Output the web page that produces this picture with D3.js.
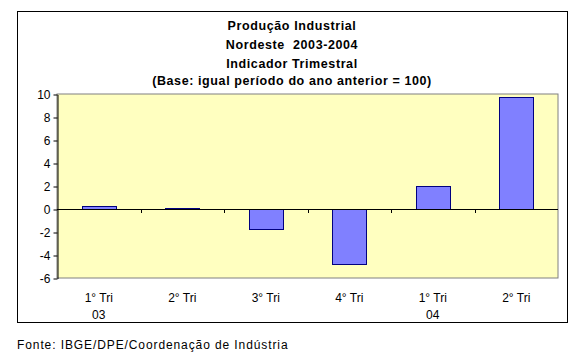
<!DOCTYPE html>
<html><head><meta charset="utf-8">
<script src="https://cdn.jsdelivr.net/npm/d3@7"></script>
<style>body{margin:0;background:#fff}svg{display:block}text{font-family:"Liberation Sans",Arial,sans-serif}</style>
</head><body>
<svg id="c" width="588" height="359"></svg>
<script>
const categories = ["1° Tri","2° Tri","3° Tri","4° Tri","1° Tri","2° Tri"];
const years = ["03","","","","04",""];
const values = [0.25, 0.08, -1.7, -4.8, 2.0, 9.7];
const yTicks = [-6,-4,-2,0,2,4,6,8,10];
const titleLines = ["Produção Industrial","Nordeste  2003-2004","Indicador Trimestral","(Base: igual período do ano anterior = 100)"];
const source = "Fonte: IBGE/DPE/Coordenação de Indústria";

const svg = d3.select("#c");
const m = {left:57, right:558, top:94, bottom:278};

svg.append("rect").attr("x",17.5).attr("y",11.5).attr("width",550).attr("height",311)
  .attr("fill","#fff").attr("stroke","#000").attr("stroke-width",1);

const x = d3.scaleBand().domain(d3.range(categories.length)).range([m.left,m.right]).paddingInner(0.59).paddingOuter(0.295);
const y = d3.scaleLinear().domain([-6,10]).range([m.bottom,m.top]);

svg.append("rect").attr("x",m.left).attr("y",m.top).attr("width",m.right-m.left).attr("height",m.bottom-m.top)
  .attr("fill","#FFFFC0").attr("stroke","#808080").attr("stroke-width",1);

svg.selectAll("rect.bar").data(values).join("rect").attr("class","bar")
  .attr("x",(d,i)=>Math.round(x(i))+0.5)
  .attr("width",Math.round(x.bandwidth()))
  .attr("y",d=>Math.round(y(Math.max(0,d)))+0.5)
  .attr("height",d=>Math.max(1,Math.abs(Math.round(y(d))-Math.round(y(0)))))
  .attr("fill","#8080FF").attr("stroke","#000080").attr("stroke-width",1);

// y axis
const ya = svg.append("g").attr("transform",`translate(${m.left+0.5},0.5)`)
  .call(d3.axisLeft(y).tickValues(yTicks).tickSize(4).tickSizeOuter(0).tickFormat(d=>String(d)));
ya.select(".domain").attr("stroke","#000");
ya.selectAll(".tick line").attr("stroke","#000");
ya.selectAll(".tick text").attr("font-size",12).attr("fill","#000").attr("x",-7).attr("dy","0.35em");

// zero line + category ticks
const step = (m.right-m.left)/categories.length;
svg.append("line").attr("x1",m.left).attr("x2",m.right).attr("y1",Math.round(y(0))+0.5).attr("y2",Math.round(y(0))+0.5).attr("stroke","#000");
const sep = d3.range(1,categories.length).map(i=>m.left+i*step);
svg.selectAll("line.sep").data(sep).join("line").attr("class","sep")
  .attr("x1",d=>Math.round(d)+0.5).attr("x2",d=>Math.round(d)+0.5)
  .attr("y1",Math.round(y(0))).attr("y2",Math.round(y(0))+4).attr("stroke","#000");

// x labels
const cx = i => x(i)+x.bandwidth()/2;
svg.selectAll("text.cat").data(categories).join("text").attr("class","cat")
  .attr("x",(d,i)=>cx(i)).attr("y",302).attr("text-anchor","middle").attr("font-size",12).text(d=>d);
svg.selectAll("text.yr").data(years).join("text").attr("class","yr")
  .attr("x",(d,i)=>cx(i)).attr("y",319).attr("text-anchor","middle").attr("font-size",12).text(d=>d);

// title
const ty = [30,49,68,85];
svg.selectAll("text.title").data(titleLines).join("text").attr("class","title")
  .attr("x",292).attr("y",(d,i)=>ty[i]).attr("text-anchor","middle").attr("font-size",12.5)
  .attr("font-weight","bold").attr("letter-spacing",0.6).style("white-space","pre").text(d=>d);

svg.append("text").attr("x",17).attr("y",349).attr("font-size",12).attr("letter-spacing",0.9).text(source);
</script>
</body></html>
